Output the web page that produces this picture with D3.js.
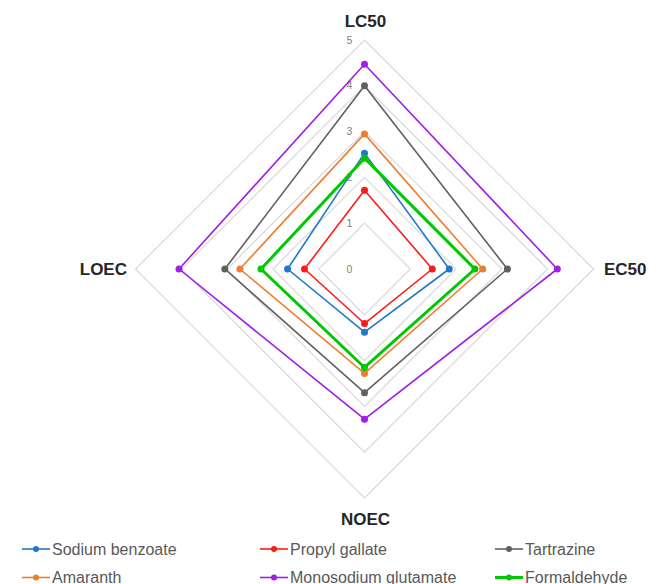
<!DOCTYPE html>
<html><head><meta charset="utf-8">
<script src="https://cdn.jsdelivr.net/npm/d3@7"></script>
<style>body{margin:0;background:#fff}svg{display:block}</style>
</head><body>
<script>
const axes = ["LC50", "EC50", "NOEC", "LOEC"];
const seriesNames = ["Sodium benzoate", "Propyl gallate", "Tartrazine", "Amaranth", "Monosodium glutamate", "Formaldehyde"];
const sodiumBenzoate = [2.53, 1.85, 1.38, 1.68];
const propylGallate = [1.72, 1.48, 1.19, 1.31];
const tartrazine = [4.0, 3.12, 2.70, 3.05];
const amaranth = [2.95, 2.58, 2.28, 2.72];
const monosodiumGlutamate = [4.47, 4.21, 3.28, 4.05];
const formaldehyde = [2.42, 2.41, 2.15, 2.26];
const tickValues = [0, 1, 2, 3, 4, 5];
const colors = ["#1f78c8", "#ff1a1a", "#606060", "#ed7d31", "#9f1ee8", "#00c800"];
const values = [sodiumBenzoate, propylGallate, tartrazine, amaranth, monosodiumGlutamate, formaldehyde];

const W = 660, H = 584, cx = 364.5, cy = 269, R = 229;
const svg = d3.select("body").append("svg").attr("width", W).attr("height", H);
const r = d3.scaleLinear().domain([0, 5]).range([0, R]);
const ang = i => -Math.PI / 2 + i * 2 * Math.PI / axes.length;
const pt = (v, i) => [cx + r(v) * Math.cos(ang(i)), cy + r(v) * Math.sin(ang(i))];
const line = d3.line().curve(d3.curveLinearClosed);

// grid
svg.append("g").selectAll("path").data(tickValues.slice(1)).join("path")
  .attr("d", t => line(axes.map((a, i) => pt(t, i))))
  .attr("fill", "none").attr("stroke", "#d9d9d9").attr("stroke-width", 1.2);

// tick labels
svg.append("g").selectAll("text").data(tickValues).join("text")
  .attr("x", cx - 15).attr("y", t => cy - r(t)).attr("dy", "0.35em")
  .attr("text-anchor", "middle").attr("font-family", "Liberation Sans, Arial, sans-serif")
  .attr("font-size", 10.5).attr("fill", "#7f7f7f").text(t => t);

// axis labels
const labelPos = [
  {x: cx + 1, y: 21, a: "middle"},
  {x: 604, y: cy, a: "start"},
  {x: cx + 1, y: 519, a: "middle"},
  {x: 127, y: cy, a: "end"}
];
svg.append("g").selectAll("text").data(axes).join("text")
  .attr("x", (d, i) => labelPos[i].x).attr("y", (d, i) => labelPos[i].y).attr("dy", "0.35em")
  .attr("text-anchor", (d, i) => labelPos[i].a)
  .attr("font-family", "Liberation Sans, Arial, sans-serif").attr("font-weight", "bold")
  .attr("font-size", 17).attr("fill", "#262626").text(d => d);

// series
const sg = svg.append("g").selectAll("g").data(values).join("g");
sg.append("path").attr("d", v => line(v.map((d, i) => pt(d, i))))
  .attr("fill", "none").attr("stroke", (v, k) => colors[k])
  .attr("stroke-width", (v, k) => k === 5 ? 3 : 1.6).attr("stroke-linejoin", "round");
sg.each(function(v, k) {
  d3.select(this).selectAll("circle").data(v).join("circle")
    .attr("cx", (d, i) => pt(d, i)[0]).attr("cy", (d, i) => pt(d, i)[1])
    .attr("r", 3.5).attr("fill", colors[k]);
});

// legend
const legX = [22, 260, 495], legY = [549, 577.5];
const lg = svg.append("g").selectAll("g").data(seriesNames).join("g")
  .attr("transform", (d, k) => `translate(${legX[k % 3]},${legY[Math.floor(k / 3)]})`);
lg.append("line").attr("x1", 0).attr("x2", 28).attr("y1", 0).attr("y2", 0)
  .attr("stroke", (d, k) => colors[k]).attr("stroke-width", (d, k) => k === 5 ? 3 : 1.6);
lg.append("circle").attr("cx", 14).attr("cy", 0).attr("r", 3).attr("fill", (d, k) => colors[k]);
lg.append("text").attr("x", 30).attr("y", 0).attr("dy", "0.35em")
  .attr("font-family", "Liberation Sans, Arial, sans-serif").attr("font-size", 16)
  .attr("fill", "#595959").text(d => d);
</script>
</body></html>
